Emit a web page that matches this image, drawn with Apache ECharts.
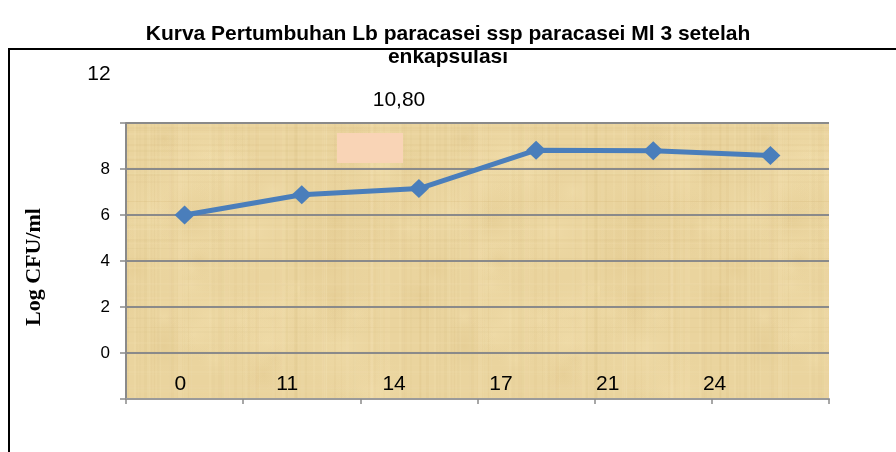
<!DOCTYPE html>
<html>
<head>
<meta charset="utf-8">
<script src="https://cdn.jsdelivr.net/npm/echarts@6/dist/echarts.min.js"></script>
<style>
html,body{margin:0;padding:0;background:#fff;}
#chart{width:896px;height:452px;}
</style>
</head>
<body>
<div id="chart"></div>
<script>
// ---- data ----
var categories = ['0', '11', '14', '17', '21', '24'];
var logCfu = [6.00, 6.88, 7.15, 8.82, 8.79, 8.59];
var yTickLabels = ['0', '2', '4', '6', '8'];
var strayLabels = ['12', '10,80'];
var titleText = 'Kurva Pertumbuhan Lb paracasei ssp paracasei Ml 3 setelah\nenkapsulasi';
var yAxisTitle = 'Log CFU/ml';

var NARROW = "'Liberation Sans Narrow', 'Arial Narrow', 'Liberation Sans', Arial, sans-serif";
var SANS = "'Liberation Sans', Arial, sans-serif";
var SERIF = "'Liberation Serif', 'Times New Roman', serif";
var GRID = '#8a8a8a';

// parchment-like texture (deterministic, decoration only)
function parchment() {
  var c = document.createElement('canvas');
  c.width = 300; c.height = 280;
  var g = c.getContext('2d');
  g.fillStyle = '#EAD49E';
  g.fillRect(0, 0, 300, 280);
  function h(n) { var s = Math.sin(n * 12.9898 + 78.233) * 43758.5453; return s - Math.floor(s); }
  // soft blotches
  for (var k = 0; k < 40; k++) {
    var bx = h(k + 3000) * 300, by = h(k + 3300) * 280, r = 15 + h(k + 3600) * 40;
    var grd = g.createRadialGradient(bx, by, 0, bx, by, r);
    var lt0 = h(k + 3900) > 0.45;
    grd.addColorStop(0, lt0 ? 'rgba(246,228,180,0.35)' : 'rgba(215,185,120,0.22)');
    grd.addColorStop(1, 'rgba(234,212,158,0)');
    g.fillStyle = grd;
    g.fillRect(bx - r, by - r, 2 * r, 2 * r);
  }
  for (var i = 0; i < 80; i++) {
    var x = Math.floor(h(i) * 300), w = 1 + Math.floor(h(i + 300) * 3);
    var light = h(i + 600) > 0.5;
    g.fillStyle = light ? 'rgba(248,232,188,' + (0.06 + h(i + 900) * 0.12) + ')' : 'rgba(205,175,110,' + (0.03 + h(i + 900) * 0.08) + ')';
    g.fillRect(x, 0, w, 280);
  }
  for (var j = 0; j < 60; j++) {
    var y = Math.floor(h(j + 1200) * 280), hh = 1 + Math.floor(h(j + 1500) * 2);
    var lt = h(j + 1800) > 0.5;
    g.fillStyle = lt ? 'rgba(248,230,185,' + (0.05 + h(j + 2100) * 0.1) + ')' : 'rgba(200,170,105,' + (0.03 + h(j + 2100) * 0.07) + ')';
    g.fillRect(0, y, 300, hh);
  }
  return c;
}

var chart = echarts.init(document.getElementById('chart'), null, {renderer: 'canvas'});

var option = {
  backgroundColor: '#ffffff',
  animation: false,
  title: {
    text: titleText,
    left: 'center',
    top: 18,
    textStyle: {fontFamily: NARROW, fontWeight: 'bold', fontSize: 21, lineHeight: 23, color: '#000'}
  },
  grid: [
    {left: 126, right: 67, top: 123, bottom: 53, show: true, backgroundColor: {image: parchment(), repeat: 'repeat'}, borderWidth: 0},
    {left: 127, width: 641, top: 300, height: 70, show: false}
  ],
  xAxis: [
    {
      type: 'category', gridIndex: 0, data: categories, boundaryGap: true,
      axisLine: {onZero: false, lineStyle: {color: '#9a9a9a', width: 2}},
      axisTick: {show: true, length: 5, lineStyle: {color: '#8a8a8a', width: 1.5}},
      axisLabel: {show: false},
      splitLine: {show: false}
    },
    {
      type: 'category', gridIndex: 1, data: categories, position: 'bottom',
      axisLine: {show: false, onZero: false}, axisTick: {show: false},
      axisLabel: {show: true, margin: 4, fontFamily: NARROW, fontSize: 21, color: '#000'}
    }
  ],
  yAxis: [
    {
      type: 'value', gridIndex: 0, min: -2, max: 10, interval: 2,
      axisLine: {show: true, onZero: false, lineStyle: {color: GRID, width: 2}},
      axisTick: {show: true, length: 6, lineStyle: {color: GRID, width: 1.5}},
      splitLine: {show: true, lineStyle: {color: GRID, width: 2}},
      axisLabel: {
        margin: 16, fontFamily: SANS, fontSize: 17, color: '#000',
        formatter: function (v) { var s = String(v); return yTickLabels.indexOf(s) >= 0 ? s : ''; }
      }
    },
    {type: 'value', gridIndex: 1, show: false}
  ],
  series: [{
    type: 'line',
    xAxisIndex: 0, yAxisIndex: 0,
    data: logCfu,
    symbol: 'diamond',
    symbolSize: [20, 19],
    lineStyle: {color: '#4A7EBB', width: 5},
    itemStyle: {color: '#4A7EBB'},
    label: {show: false}
  }],
  graphic: [
    {type: 'rect', z: 100, shape: {x: 9, y: 49, width: 1200, height: 1000}, style: {fill: 'none', stroke: '#000', lineWidth: 2}},
    {type: 'rect', z: 5, shape: {x: 337, y: 133, width: 66, height: 30}, style: {fill: '#F9D4B6'}},
    {type: 'text', z: 101, x: 99, y: 74, style: {text: strayLabels[0], font: '21px ' + NARROW, fill: '#000', textAlign: 'center', textVerticalAlign: 'middle'}},
    {type: 'text', z: 101, x: 399, y: 100, style: {text: strayLabels[1], font: '21px ' + NARROW, fill: '#000', textAlign: 'center', textVerticalAlign: 'middle'}},
    {type: 'text', z: 101, x: 34, y: 267, rotation: Math.PI / 2, style: {text: yAxisTitle, font: 'bold 22px ' + SERIF, fill: '#000', textAlign: 'center', textVerticalAlign: 'middle'}}
  ]
};
chart.setOption(option);
</script>
</body>
</html>
